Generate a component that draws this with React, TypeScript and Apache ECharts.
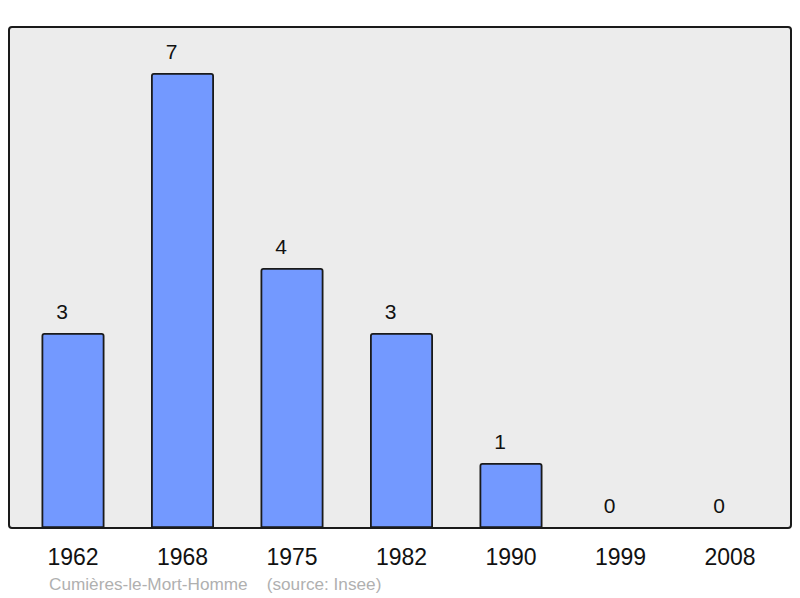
import React, { useEffect, useRef } from "react";
import * as echarts from "echarts";

const categories = ["1962", "1968", "1975", "1982", "1990", "1999", "2008"];
const values = [3, 7, 4, 3, 1, 0, 0];
const footer = "Cumières-le-Mort-Homme    (source: Insee)";

export default function App() {
  const ref = useRef<HTMLDivElement>(null);
  useEffect(() => {
    document.body.style.margin = "0";
    if (!ref.current) return;
    const chart = echarts.init(ref.current, null, { renderer: "svg" });
    chart.setOption({
      animation: false,
      textStyle: { fontFamily: "Liberation Sans, Arial, sans-serif" },
      grid: { left: 18.25, width: 766.5, top: 73, height: 455 },
      xAxis: {
        type: "category",
        data: categories,
        axisLine: { show: false },
        axisTick: { show: false },
        axisLabel: {
          color: "#111",
          fontSize: 23,
          margin: 17,
          fontFamily: "Liberation Sans, Arial, sans-serif",
        },
      },
      yAxis: {
        type: "value",
        min: 0,
        max: 7,
        show: false,
        splitLine: { show: false },
      },
      graphic: [
        {
          type: "rect",
          z: -10,
          shape: { x: 9, y: 27, width: 782, height: 501, r: 3 },
          style: { fill: "#ececec", stroke: "#1a1a1a", lineWidth: 2 },
        },
        {
          type: "text",
          x: 49,
          y: 584,
          style: {
            text: footer,
            fill: "#b0b0b0",
            fontSize: 17.2,
            fontFamily: "Liberation Sans, Arial, sans-serif",
            verticalAlign: "middle",
            whiteSpace: "pre",
          },
        },
      ],
      series: [
        {
          type: "bar",
          data: values,
          barWidth: 63,
          itemStyle: {
            color: "#7399ff",
            borderColor: "#1a1a1a",
            borderWidth: 1.8,
            borderRadius: [2, 2, 0, 0],
          },
          label: {
            show: true,
            position: "top",
            distance: 11,
            offset: [-11, 0],
            color: "#111",
            fontSize: 21,
            fontFamily: "Liberation Sans, Arial, sans-serif",
          },
        },
      ],
    });
    return () => chart.dispose();
  }, []);
  return <div ref={ref} style={{ width: 800, height: 598 }} />;
}
